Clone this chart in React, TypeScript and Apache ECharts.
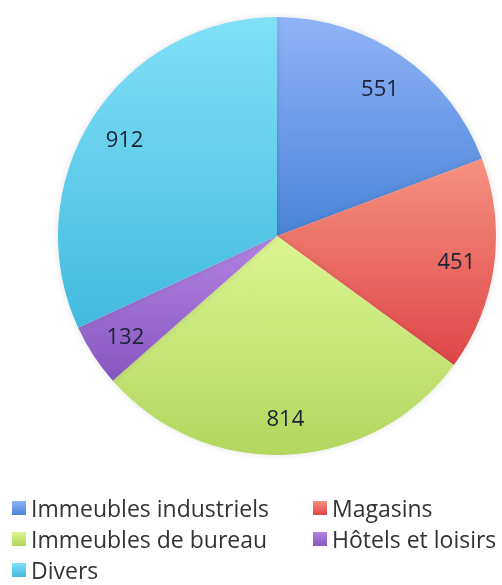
import React, { useEffect, useRef } from "react";
import * as echarts from "echarts";

const categories = [
  "Immeubles industriels",
  "Magasins",
  "Immeubles de bureau",
  "Hôtels et loisirs",
  "Divers",
];
const values = [551, 451, 814, 132, 912];
const topColors = ["#90b3f6", "#f6917f", "#dcf592", "#b283e2", "#80e0f8"];
const bottomColors = ["#4a84d8", "#df4648", "#b2d65e", "#8657be", "#42bade"];
const legendLeft = ["Immeubles industriels", "Immeubles de bureau", "Divers"];
const legendRight = ["Magasins", "Hôtels et loisirs"];

export default function App() {
  const ref = useRef<HTMLDivElement>(null);
  useEffect(() => {
    if (!ref.current) return;
    const chart = echarts.init(ref.current, undefined, { renderer: "svg" });
    const grad = (i: number) =>
      new echarts.graphic.LinearGradient(0, 0, 0, 1, [
        { offset: 0, color: topColors[i] },
        { offset: 1, color: bottomColors[i] },
      ]);
    const data = categories.map((name, i) => ({
      name,
      value: values[i],
      itemStyle: { color: grad(i) },
    }));
    const labelData = categories.map((name, i) => ({
      name,
      value: values[i],
    }));
    const legendText = {
      fontFamily: "Open Sans",
      fontSize: 23,
      color: "#333",
      lineHeight: 26,
    };
    const legendBase = {
      orient: "vertical",
      top: 495,
      height: 120,
      padding: 0,
      itemWidth: 14,
      itemHeight: 14,
      itemGap: 5,
      icon: "rect",
      textStyle: legendText,
      selectedMode: false,
    };
    chart.setOption({
      animation: false,
      legend: [
        { ...legendBase, data: legendLeft, left: 12 },
        { ...legendBase, data: legendRight, left: 313 },
      ],
      series: [
        {
          type: "pie",
          center: [277, 236],
          radius: [0, 219],
          startAngle: 90,
          clockwise: true,
          data,
          label: { show: false },
          labelLine: { show: false },
          itemStyle: {
            borderWidth: 0,
            shadowBlur: 6,
            shadowColor: "rgba(0,0,0,0.12)",
          },
          emphasis: { disabled: true },
        },
        {
          type: "pie",
          center: [277, 236],
          radius: [137, 219],
          startAngle: 90,
          clockwise: true,
          data: labelData,
          silent: true,
          legendHoverLink: false,
          itemStyle: { color: "rgba(0,0,0,0)", borderWidth: 0 },
          label: {
            show: true,
            position: "inside",
            formatter: "{c}",
            fontFamily: "Open Sans",
            fontSize: 22,
            color: "#1a2233",
          },
          labelLine: { show: false },
          emphasis: { disabled: true },
        },
      ],
    });
    return () => chart.dispose();
  }, []);
  return (
    <div
      ref={ref}
      style={{ position: "fixed", left: 0, top: 0, width: 502, height: 585 }}
    />
  );
}
